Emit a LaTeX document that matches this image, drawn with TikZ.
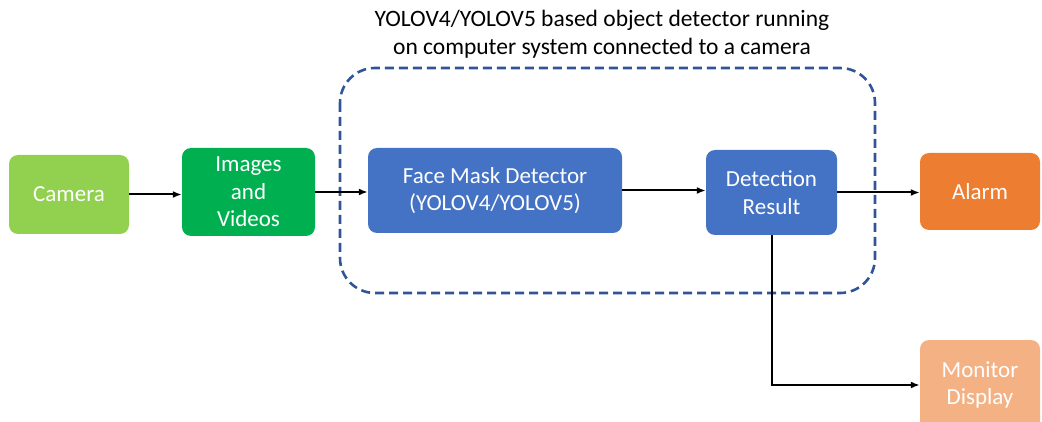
\documentclass[tikz,border=0pt]{standalone}
\usepackage{fontspec}
\setmainfont{Carlito}
\usetikzlibrary{arrows.meta}
\definecolor{camgreen}{HTML}{92D050}
\definecolor{imggreen}{HTML}{00B050}
\definecolor{procblue}{HTML}{4472C4}
\definecolor{alarmorange}{HTML}{ED7D31}
\definecolor{monpeach}{HTML}{F4B183}
\definecolor{groupblue}{HTML}{2F5597}
\begin{document}
\begin{tikzpicture}[x=1pt,y=-1pt,
  box/.style={draw=none, rounded corners=9pt, text=white, align=center,
    font=\fontsize{23}{27.5}\selectfont, inner sep=0pt},
  link/.style={draw=black, line width=2pt, -{Latex[length=9pt,width=7pt]}},
  group/.style={draw=groupblue, line width=2.6pt, dash pattern=on 9pt off 5pt, rounded corners=35pt}]
\useasboundingbox (0,0) rectangle (1042,422);
\clip (0,0) rectangle (1042,422);

% group outline around the detector stages
\draw[group] (340,68) rectangle (875,293);
\node[font=\fontsize{23.5}{28}\selectfont, align=center] (title) at (602,34)
  {YOLOV4/YOLOV5 based object detector running\\on computer system connected to a camera};

% stages
\node[box, fill=camgreen, minimum width=120pt, minimum height=79pt] (cam) at (69,194.5) {Camera};
\node[box, fill=imggreen, minimum width=133pt, minimum height=88pt] (img) at (248.5,192) {Images\\and\\Videos};
\node[box, fill=procblue, minimum width=254pt, minimum height=85pt] (face) at (495,190.5) {Face Mask Detector\\(YOLOV4/YOLOV5)};
\node[box, fill=procblue, minimum width=131pt, minimum height=85pt] (det) at (771.5,192.5) {Detection\\Result};
\node[box, fill=alarmorange, minimum width=120pt, minimum height=77pt] (alarm) at (980,191.5) {Alarm};
\node[box, fill=monpeach, minimum width=120pt, minimum height=90pt] (mon) at (980,385) {Monitor\\Display};

% connectors
\draw[link] (cam.east) -- (cam.east -| img.west);
\draw[link] (img.east) -- (img.east -| face.west);
\draw[link] (face.east) -- (face.east -| det.west);
\draw[link] (det.east) -- (det.east -| alarm.west);
\draw[link] (det.south) |- (mon.west);
\end{tikzpicture}
\end{document}
